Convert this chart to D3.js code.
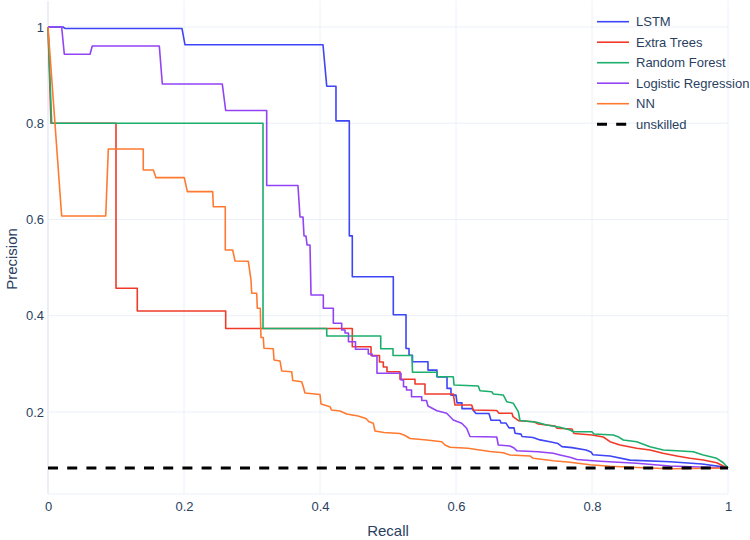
<!DOCTYPE html>
<html>
<head>
<meta charset="utf-8">
<script src="https://cdn.jsdelivr.net/npm/d3@7"></script>
<style>
  html, body { margin: 0; padding: 0; background: #fff; }
  svg { display: block; }
  text { font-family: "Liberation Sans", Arial, sans-serif; fill: #2a3f5f; }
</style>
</head>
<body>
<svg id="chart" width="750" height="540"></svg>
<script>
// ---------------- DATA ----------------
const seriesNames = ["LSTM", "Extra Trees", "Random Forest", "Logistic Regression", "NN"];

const lstmRecall = [0, 0.022, 0.025, 0.197, 0.2015, 0.4044, 0.4099, 0.4235, 0.4235, 0.4431, 0.4431, 0.4475, 0.4475, 0.5078, 0.5078, 0.5265, 0.5265, 0.5309, 0.5309, 0.536, 0.536, 0.5588, 0.5588, 0.572, 0.572, 0.5868, 0.5868, 0.5926, 0.5926, 0.6, 0.6015, 0.6088, 0.6088, 0.6235, 0.6294, 0.6485, 0.6515, 0.6647, 0.6662, 0.6735, 0.678, 0.6853, 0.6868, 0.6956, 0.6971, 0.7132, 0.7235, 0.7382, 0.75, 0.7559, 0.7706, 0.7912, 0.7985, 0.8015, 0.8265, 0.8559, 0.9147, 0.9618, 0.9985, 1];
const lstmPrecision = [1, 1, 0.997, 0.997, 0.963, 0.963, 0.877, 0.877, 0.805, 0.805, 0.566, 0.566, 0.481, 0.481, 0.402, 0.402, 0.332, 0.332, 0.318, 0.318, 0.3045, 0.3045, 0.287, 0.287, 0.273, 0.273, 0.249, 0.249, 0.235, 0.235, 0.219, 0.219, 0.207, 0.207, 0.197, 0.197, 0.183, 0.183, 0.177, 0.177, 0.167, 0.167, 0.156, 0.154, 0.149, 0.147, 0.142, 0.138, 0.1345, 0.128, 0.126, 0.121, 0.117, 0.111, 0.1086, 0.1, 0.0967, 0.092, 0.085, 0.0836];

const etRecall = [0, 0.0044, 0.1, 0.1, 0.1313, 0.1313, 0.2613, 0.2613, 0.4475, 0.4475, 0.475, 0.475, 0.4875, 0.4875, 0.4931, 0.4931, 0.4985, 0.4985, 0.5176, 0.5176, 0.5397, 0.5397, 0.5544, 0.5544, 0.596, 0.5985, 0.6231, 0.6254, 0.6599, 0.6632, 0.6824, 0.6838, 0.6919, 0.7147, 0.721, 0.7456, 0.7485, 0.7706, 0.7735, 0.8, 0.8166, 0.8265, 0.8412, 0.8657, 0.8853, 0.9044, 0.9246, 0.9441, 0.9637, 0.9834, 0.9931, 1];
const etPrecision = [1, 0.8, 0.8, 0.457, 0.457, 0.41, 0.41, 0.3735, 0.3735, 0.3357, 0.3357, 0.3174, 0.3174, 0.3039, 0.3039, 0.2935, 0.2935, 0.2837, 0.2837, 0.268, 0.268, 0.2582, 0.2582, 0.2374, 0.2374, 0.2145, 0.2145, 0.2042, 0.2031, 0.1973, 0.1973, 0.1902, 0.1819, 0.1798, 0.1751, 0.1709, 0.1661, 0.1647, 0.1553, 0.1522, 0.148, 0.1383, 0.1314, 0.1246, 0.121, 0.1142, 0.1086, 0.1038, 0.1003, 0.0946, 0.0878, 0.0836];

const rfRecall = [0, 0.0054, 0.3162, 0.3162, 0.4099, 0.4099, 0.4893, 0.4893, 0.5074, 0.5074, 0.5353, 0.536, 0.5716, 0.5725, 0.596, 0.5971, 0.6328, 0.6353, 0.6525, 0.6549, 0.6696, 0.6746, 0.6843, 0.6916, 0.6941, 0.7187, 0.7334, 0.7529, 0.7676, 0.7725, 0.7996, 0.8029, 0.8313, 0.8382, 0.846, 0.8657, 0.8853, 0.9049, 0.9246, 0.949, 0.9637, 0.9834, 0.9931, 1];
const rfPrecision = [1, 0.8, 0.8, 0.3735, 0.3735, 0.3579, 0.3579, 0.3315, 0.3315, 0.3174, 0.3174, 0.2825, 0.2825, 0.2733, 0.2733, 0.2561, 0.254, 0.2443, 0.2422, 0.2374, 0.2353, 0.2214, 0.2181, 0.2006, 0.1823, 0.1786, 0.173, 0.1682, 0.1626, 0.1591, 0.1591, 0.1543, 0.1522, 0.1487, 0.1418, 0.1383, 0.1279, 0.121, 0.1196, 0.1175, 0.1107, 0.1038, 0.0946, 0.0836];

const lrRecall = [0, 0.0201, 0.024, 0.0618, 0.0651, 0.1637, 0.1681, 0.2563, 0.2613, 0.3216, 0.3216, 0.3676, 0.3706, 0.375, 0.3765, 0.3794, 0.381, 0.3853, 0.3868, 0.4049, 0.4049, 0.4196, 0.4196, 0.4319, 0.4319, 0.4368, 0.4368, 0.4419, 0.4419, 0.4522, 0.4522, 0.471, 0.471, 0.4765, 0.4765, 0.4838, 0.4838, 0.5191, 0.5191, 0.5228, 0.5228, 0.5272, 0.5272, 0.5346, 0.5346, 0.5496, 0.5496, 0.5566, 0.5588, 0.572, 0.5863, 0.596, 0.6084, 0.6157, 0.6206, 0.6599, 0.6622, 0.6794, 0.6853, 0.6893, 0.7206, 0.7431, 0.7529, 0.7676, 0.7779, 0.8118, 0.8657, 0.9147, 1];
const lrPrecision = [1, 1, 0.9433, 0.9433, 0.9605, 0.9605, 0.8816, 0.8816, 0.8265, 0.8265, 0.6706, 0.6706, 0.6051, 0.6051, 0.5656, 0.5656, 0.5469, 0.5469, 0.4431, 0.4431, 0.4155, 0.4155, 0.3843, 0.3843, 0.3704, 0.3704, 0.3642, 0.3642, 0.3461, 0.3461, 0.3305, 0.3305, 0.3205, 0.3205, 0.3164, 0.3164, 0.2804, 0.2804, 0.2665, 0.2665, 0.2526, 0.2526, 0.2457, 0.2457, 0.2318, 0.2318, 0.2239, 0.2239, 0.2125, 0.2027, 0.1973, 0.1834, 0.1765, 0.1661, 0.1491, 0.148, 0.1314, 0.1294, 0.1252, 0.1196, 0.1175, 0.1142, 0.1107, 0.1059, 0.1013, 0.0976, 0.0934, 0.0878, 0.0836];

const nnRecall = [0, 0.0201, 0.0849, 0.0887, 0.1401, 0.1401, 0.1549, 0.1588, 0.2004, 0.2049, 0.2422, 0.2431, 0.2607, 0.2607, 0.2716, 0.275, 0.2946, 0.2985, 0.2996, 0.3069, 0.3078, 0.3122, 0.3132, 0.3166, 0.3176, 0.3313, 0.3324, 0.3412, 0.3437, 0.3584, 0.3599, 0.3731, 0.3754, 0.3779, 0.4, 0.4015, 0.4147, 0.4169, 0.4294, 0.4393, 0.4559, 0.4676, 0.4721, 0.4784, 0.4809, 0.4941, 0.5176, 0.525, 0.5324, 0.5569, 0.579, 0.5838, 0.5912, 0.6176, 0.65, 0.6696, 0.6794, 0.7088, 0.7137, 0.7431, 0.7676, 0.7971, 0.8265, 0.8657, 0.9147, 1];
const nnPrecision = [1, 0.6073, 0.6073, 0.7465, 0.7465, 0.7029, 0.7029, 0.6869, 0.6869, 0.6578, 0.6578, 0.6266, 0.6266, 0.5366, 0.5366, 0.5138, 0.5131, 0.4743, 0.4467, 0.4467, 0.4155, 0.4155, 0.3548, 0.3548, 0.3324, 0.3315, 0.308, 0.306, 0.2852, 0.2837, 0.2655, 0.263, 0.2526, 0.2395, 0.2364, 0.2166, 0.211, 0.2042, 0.2021, 0.1958, 0.1917, 0.1865, 0.1798, 0.1765, 0.1605, 0.1574, 0.1553, 0.1512, 0.1449, 0.1418, 0.1383, 0.1314, 0.1267, 0.1246, 0.1179, 0.1154, 0.1107, 0.1086, 0.1038, 0.0988, 0.0955, 0.0905, 0.0872, 0.0847, 0.082, 0.0836];

const unskilledRecall = [0, 1];
const unskilledPrecision = [0.0836, 0.0836];

const xTickValues = [0, 0.2, 0.4, 0.6, 0.8, 1];
const xTickLabels = ["0", "0.2", "0.4", "0.6", "0.8", "1"];
const yTickValues = [0.2, 0.4, 0.6, 0.8, 1];
const yTickLabels = ["0.2", "0.4", "0.6", "0.8", "1"];

const xDomain = [0, 1];
const yDomain = [0.0296, 1.054];

// ---------------- STYLE / LAYOUT ----------------
const colors = ["#3d45f5", "#ef3a2a", "#1cae6c", "#9343f5", "#ff7a30"];
const gridColor = "#ebf0f8";
const plot = { left: 48, right: 728, top: 1, bottom: 494 };

const svg = d3.select("#chart");
const x = d3.scaleLinear().domain(xDomain).range([plot.left, plot.right]);
const y = d3.scaleLinear().domain(yDomain).range([plot.bottom, plot.top]);

// grid
const grid = svg.append("g");
grid.selectAll("line.xg").data(xTickValues).join("line")
  .attr("x1", d => x(d)).attr("x2", d => x(d))
  .attr("y1", plot.top).attr("y2", plot.bottom)
  .attr("stroke", gridColor).attr("stroke-width", d => d === 0 ? 2 : 1);
grid.selectAll("line.yg").data(yTickValues).join("line")
  .attr("x1", plot.left).attr("x2", plot.right)
  .attr("y1", d => y(d)).attr("y2", d => y(d))
  .attr("stroke", gridColor).attr("stroke-width", 1);
grid.append("line")
  .attr("x1", plot.left).attr("x2", plot.right)
  .attr("y1", plot.bottom).attr("y2", plot.bottom)
  .attr("stroke", gridColor).attr("stroke-width", 1);

// axes
const xAxis = d3.axisBottom(x).tickValues(xTickValues)
  .tickFormat((d, i) => xTickLabels[i]).tickSize(0).tickPadding(8);
const gx = svg.append("g").attr("transform", `translate(0,${plot.bottom})`).call(xAxis);
gx.select(".domain").remove();
gx.selectAll("text").attr("font-size", 13).style("fill", "#2a3f5f")
  .attr("font-family", "Liberation Sans, Arial, sans-serif");

const yAxis = d3.axisLeft(y).tickValues(yTickValues)
  .tickFormat((d, i) => yTickLabels[i]).tickSize(0).tickPadding(4);
const gy = svg.append("g").attr("transform", `translate(${plot.left},0)`).call(yAxis);
gy.select(".domain").remove();
gy.selectAll("text").attr("font-size", 13).style("fill", "#2a3f5f")
  .attr("font-family", "Liberation Sans, Arial, sans-serif");

// axis titles
svg.append("text").attr("x", (plot.left + plot.right) / 2).attr("y", 536)
  .attr("text-anchor", "middle").attr("font-size", 15).text("Recall");
svg.append("text")
  .attr("transform", "translate(17,259) rotate(-90)")
  .attr("text-anchor", "middle").attr("font-size", 15).text("Precision");

// series
const series = [
  [lstmRecall, lstmPrecision],
  [etRecall, etPrecision],
  [rfRecall, rfPrecision],
  [lrRecall, lrPrecision],
  [nnRecall, nnPrecision]
];
const line = d3.line().x(d => x(d[0])).y(d => y(d[1]));
const gLines = svg.append("g");
series.forEach(([rec, prec], i) => {
  const pts = rec.map((r, j) => [r, prec[j]]);
  gLines.append("path").datum(pts)
    .attr("d", line).attr("fill", "none")
    .attr("stroke", colors[i]).attr("stroke-width", 1.6)
    .attr("stroke-linejoin", "round");
});
const unskilledPts = unskilledRecall.map((r, j) => [r, unskilledPrecision[j]]);
gLines.append("path").datum(unskilledPts)
  .attr("d", line).attr("fill", "none")
  .attr("stroke", "#000").attr("stroke-width", 3)
  .attr("stroke-dasharray", "10,9.2");

// legend
const legendNames = seriesNames.concat(["unskilled"]);
const legendColors = colors.concat(["#000"]);
const lg = svg.append("g");
legendNames.forEach((name, i) => {
  const ly = 21.7 + i * 20.5;
  const isDash = name === "unskilled";
  lg.append("line").attr("x1", 597).attr("x2", 629).attr("y1", ly).attr("y2", ly)
    .attr("stroke", legendColors[i]).attr("stroke-width", isDash ? 3 : 1.6)
    .attr("stroke-dasharray", isDash ? "10,9.2" : null);
  lg.append("text").attr("x", 636).attr("y", ly).attr("dy", "0.36em")
    .attr("font-size", 13).text(name);
});
</script>
</body>
</html>
